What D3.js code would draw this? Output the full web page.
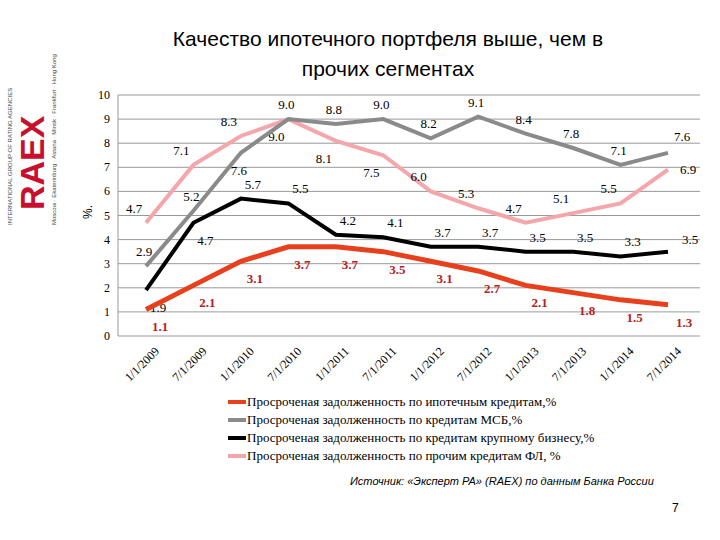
<!DOCTYPE html><html><head><meta charset="utf-8"><script src="https://cdn.jsdelivr.net/npm/d3@7"></script>
<style>body{margin:0;background:#fff}</style></head><body><svg width="720" height="540"></svg><script>
const dates=["1/1/2009","7/1/2009","1/1/2010","7/1/2010","1/1/2011","7/1/2011","1/1/2012","7/1/2012","1/1/2013","7/1/2013","1/1/2014","7/1/2014"];
const mortgage=[1.1,2.1,3.1,3.7,3.7,3.5,3.1,2.7,2.1,1.8,1.5,1.3];
const sme=[2.9,5.2,7.6,9.0,8.8,9.0,8.2,9.1,8.4,7.8,7.1,7.6];
const corporate=[1.9,4.7,5.7,5.5,4.2,4.1,3.7,3.7,3.5,3.5,3.3,3.5];
const consumer=[4.7,7.1,8.3,9.0,8.1,7.5,6.0,5.3,4.7,5.1,5.5,6.9];
const yTicks=[0,1,2,3,4,5,6,7,8,9,10];
const names=["Просроченая задолженность по ипотечным кредитам,%","Просроченая задолженность по кредитам МСБ,%","Просроченая задолженность по кредитам крупному бизнесу,%","Просроченая задолженность по прочим кредитам ФЛ, %"];
const series=[
 {v:consumer,c:"#f4a6ab",w:4,dx:-12,dy:-14,tc:"#000",b:false,below:[3,4,5],last:[20,0]},
 {v:sme,c:"#8a8a8a",w:4,dx:-2,dy:-14,tc:"#000",b:false,below:[2],last:[14,-16]},
 {v:corporate,c:"#000",w:4,dx:12,dy:-14,tc:"#000",b:false,below:[0,1],last:[22,-12]},
 {v:mortgage,c:"#e8401c",w:5,dx:14,dy:18,tc:"#b5221e",b:true,below:[],last:[16,-12+30]}];
const svg=d3.select("svg");
const serif="'Liberation Serif','DejaVu Serif',serif";
const x=d3.scalePoint().domain(dates).range([146,668]);
const y=d3.scaleLinear().domain([0,10]).range([336,95]);
svg.selectAll("line.g").data(yTicks.slice(1)).join("line").attr("x1",118).attr("x2",700).attr("y1",d=>y(d)).attr("y2",d=>y(d)).attr("stroke","#999").attr("stroke-width",1);
svg.append("line").attr("x1",118).attr("x2",700).attr("y1",y(0)).attr("y2",y(0)).attr("stroke","#999");
svg.append("line").attr("x1",118).attr("x2",118).attr("y1",y(10)).attr("y2",y(0)).attr("stroke","#999");
svg.selectAll("text.yt").data(yTicks).join("text").attr("x",110).attr("y",d=>y(d)+4).attr("text-anchor","end").attr("font-family",serif).attr("font-size",12).text(d=>d);
svg.selectAll("text.xt").data(dates).join("text").attr("transform",d=>`translate(${x(d)+8},${y(0)+10}) rotate(-45)`).attr("text-anchor","end").attr("dy","0.7em").attr("font-family",serif).attr("font-size",12).text(d=>d);
const line=d3.line().x((d,i)=>x(dates[i])).y(d=>y(d));
series.forEach(s=>{
 svg.append("path").attr("d",line(s.v)).attr("fill","none").attr("stroke",s.c).attr("stroke-width",s.w);
 svg.selectAll(null).data(s.v).join("text")
  .attr("x",(d,i)=>x(dates[i])+(i==11?s.last[0]:s.dx))
  .attr("y",(d,i)=>y(d)+(i==11?s.last[1]:(s.below.includes(i)?18:s.dy))+4)
  .attr("text-anchor","middle").attr("font-family",serif).attr("font-size",13).attr("font-weight",s.b?"bold":"normal").attr("fill",s.tc).text(d=>d.toFixed(1));
});
svg.append("text").attr("transform","translate(92,212) rotate(-90)").attr("text-anchor","middle").attr("font-family","'Liberation Sans',sans-serif").attr("font-size",12).text("%.");
svg.append("text").attr("x",388).attr("y",46).attr("text-anchor","middle").attr("font-family","'Liberation Sans',sans-serif").attr("font-size",21).text("Качество ипотечного портфеля выше, чем в");
svg.append("text").attr("x",388).attr("y",76).attr("text-anchor","middle").attr("font-family","'Liberation Sans',sans-serif").attr("font-size",21).text("прочих сегментах");
const lc=["#e8401c","#8a8a8a","#000","#f4a6ab"];
names.forEach((n,i)=>{
 svg.append("rect").attr("x",228).attr("y",400+i*18).attr("width",18).attr("height",4).attr("fill",lc[i]);
 svg.append("text").attr("x",247).attr("y",406+i*18).attr("font-family",serif).attr("font-size",13).text(n);
});
svg.append("text").attr("x",350).attr("y",485).attr("font-family","'Liberation Sans',sans-serif").attr("font-style","italic").attr("font-size",11).text("Источник: «Эксперт РА» (RAEX)  по данным Банка России");
svg.append("text").attr("x",672).attr("y",512).attr("font-family","'Liberation Sans',sans-serif").attr("font-size",12).text("7");
svg.append("text").attr("transform","translate(44,210) rotate(-90)").attr("font-family","'Liberation Sans',sans-serif").attr("font-weight","bold").attr("font-size",34).attr("fill","#c8102e").text("RAEX");
svg.append("text").attr("transform","translate(12,225) rotate(-90)").attr("font-family","'Liberation Sans',sans-serif").attr("font-size",6).attr("fill","#444").text("INTERNATIONAL GROUP OF RATING AGENCIES");
svg.append("text").attr("transform","translate(56,225) rotate(-90)").attr("font-family","'Liberation Sans',sans-serif").attr("font-size",6).attr("fill","#444").text("Moscow · Ekaterinburg · Astana · Minsk · Frankfurt · Hong Kong");
</script></body></html>
